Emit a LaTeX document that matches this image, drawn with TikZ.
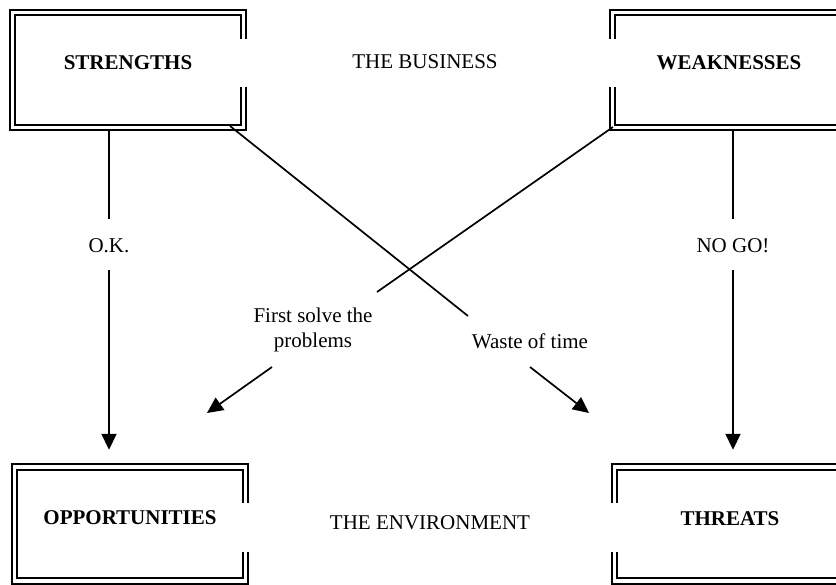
\documentclass[tikz,border=0pt]{standalone}
\usepackage{fontspec}
\setmainfont{Liberation Serif}
\usetikzlibrary{arrows.meta}
\tikzset{
  frame/.style={line width=2.1pt, line join=miter},
  lbl/.style={inner sep=0pt, font=\fontsize{21}{25}\selectfont, align=center},
  title/.style={inner sep=0pt, font=\fontsize{21}{25}\selectfont\bfseries},
  conn/.style={line width=1.7pt},
  arr/.style={line width=1.7pt, -{Triangle[length=16pt,width=15pt]}},
  boxarea/.style={inner sep=0pt, draw=none}
}
\begin{document}
\begin{tikzpicture}[x=1pt,y=-1pt]
\clip (0,0) rectangle (836,585);
\fill[white] (0,0) rectangle (836,585);

% box areas (named)
\node[boxarea, minimum width=236pt, minimum height=120pt] (S) at (128,70) {};
\node[boxarea, minimum width=240pt, minimum height=120pt] (W) at (730,70) {};
\node[boxarea, minimum width=236pt, minimum height=120pt] (O) at (130,524) {};
\node[boxarea, minimum width=238pt, minimum height=120pt] (T) at (731,524) {};

% STRENGTHS frame (gap on right)
\draw[frame] (246,39) -- (246,10) -- (10,10) -- (10,130) -- (246,130) -- (246,87);
\draw[frame] (241,39) -- (241,15) -- (15,15) -- (15,125) -- (241,125) -- (241,87);
% WEAKNESSES frame (gap on left)
\draw[frame] (610,39) -- (610,10) -- (850,10) -- (850,130) -- (610,130) -- (610,87);
\draw[frame] (615,39) -- (615,15) -- (845,15) -- (845,125) -- (615,125) -- (615,87);
% OPPORTUNITIES frame (gap on right)
\draw[frame] (248,503) -- (248,464) -- (12,464) -- (12,584) -- (248,584) -- (248,552);
\draw[frame] (243,503) -- (243,470) -- (17,470) -- (17,578) -- (243,578) -- (243,552);
% THREATS frame (gap on left)
\draw[frame] (612,503) -- (612,464) -- (850,464) -- (850,584) -- (612,584) -- (612,552);
\draw[frame] (617,503) -- (617,470) -- (845,470) -- (845,578) -- (617,578) -- (617,552);

% titles
\node[title] (st) at (128,63) {STRENGTHS};
\node[title] (wt) at (729,63) {WEAKNESSES};
\node[title] (ot) at (130,518) {OPPORTUNITIES};
\node[title] (tt) at (730,519) {THREATS};
\node[lbl] (bus) at (425,62) {THE BUSINESS};
\node[lbl] (env) at (430,523) {THE ENVIRONMENT};

% labels
\node[lbl] (ok) at (109,246) {O.K.};
\node[lbl] (nogo) at (733,246) {NO GO!};
\node[lbl] (first) at (313,330) {First solve the\\problems};
\node[lbl] (waste) at (530,341) {Waste of time};

% connector coordinates
\coordinate (okT) at (109,219);
\coordinate (okB) at (109,270);
\coordinate (ngT) at (733,219);
\coordinate (ngB) at (733,270);
\coordinate (sD) at (230,126);
\coordinate (wasteT) at (468,316);
\coordinate (wasteB) at (530,367);
\coordinate (oppTip) at (589,413);
\coordinate (wD) at (613,127);
\coordinate (firstT) at (377,292);
\coordinate (firstB) at (272,367);
\coordinate (thrTip) at (207,413);

% vertical connectors
\draw[conn] (S.south -| okT) -- (okT);
\draw[arr, shorten >=14pt] (okB) -- (okB |- O.north);
\draw[conn] (W.south -| ngT) -- (ngT);
\draw[arr, shorten >=14pt] (ngB) -- (ngB |- T.north);

% diagonal connectors
\draw[conn] (sD) -- (wasteT);
\draw[arr] (wasteB) -- (oppTip);
\draw[conn] (wD) -- (firstT);
\draw[arr] (firstB) -- (thrTip);
\end{tikzpicture}
\end{document}
